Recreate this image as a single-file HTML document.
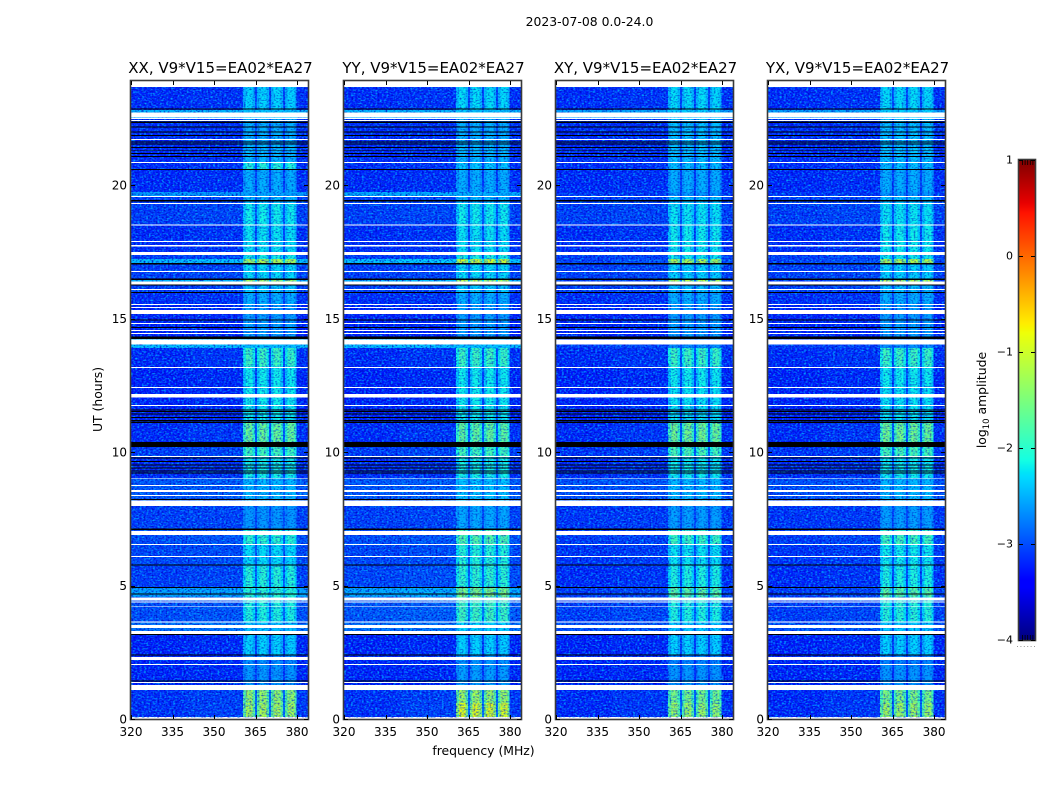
<!DOCTYPE html>
<html>
<head>
<meta charset="utf-8">
<title>2023-07-08 0.0-24.0</title>
<style>
html,body{margin:0;padding:0;background:#fff;width:1050px;height:800px;overflow:hidden}
svg{display:block}
text{font-family:"DejaVu Sans","Liberation Sans",sans-serif;fill:#000}
.tick{font-size:12px}
.ptitle{font-size:15px}
.label{font-size:12.4px}
</style>
</head>
<body>
<svg id="chart" xmlns="http://www.w3.org/2000/svg" width="1050" height="800" viewBox="0 0 1050 800">
  <defs>
    <filter id="grainLight" x="0" y="0" width="1" height="1" color-interpolation-filters="sRGB">
      <feTurbulence type="fractalNoise" baseFrequency="0.45 0.6" numOctaves="1" seed="3"/>
      <feColorMatrix type="matrix" values="0 0 0 0 0  0 0 0 0 0.7  0 0 0 0 1  2.6 0 0 0 -1.15"/>
    </filter>
    <filter id="grainDark" x="0" y="0" width="1" height="1" color-interpolation-filters="sRGB">
      <feTurbulence type="fractalNoise" baseFrequency="0.5 0.65" numOctaves="1" seed="11"/>
      <feColorMatrix type="matrix" values="0 0 0 0 0  0 0 0 0 0  0 0 0 0 0.75  2.6 0 0 0 -1.2"/>
    </filter>
  </defs>
  <text x="589.5" y="26" text-anchor="middle" font-size="12.4">2023-07-08 0.0-24.0</text>
  <text class="label" x="483.5" y="755" text-anchor="middle">frequency (MHz)</text>
  <text class="label" transform="translate(102,399.5) rotate(-90)" text-anchor="middle">UT (hours)</text>
  <text class="label" transform="translate(986,400) rotate(-90)" text-anchor="middle">log<tspan font-size="8.5" dy="3">10</tspan><tspan dy="-3"> amplitude</tspan></text>
</svg>
<script>
/* Axis ticks */
var freqTicks = [320, 335, 350, 365, 380];
var utTicks = [0, 5, 10, 15, 20];
var colorTicks = [1, 0, -1, -2, -3, -4];
var panelTitles = ['XX, V9*V15=EA02*EA27', 'YY, V9*V15=EA02*EA27', 'XY, V9*V15=EA02*EA27', 'YX, V9*V15=EA02*EA27'];

/* Frequency channels (MHz) and how strongly each follows the in-band level */
var freqEdges = [320, 340, 360.5, 361.5, 364, 364.8, 365.6, 366.5, 369, 369.8, 370.6, 371.5, 374, 374.9, 375.7, 376.5, 379, 379.9, 384];
var channelGain = [-0.02, 0.02, 0.76, 0.96, 0.74, 0.15, 0.74, 0.96, 0.74, 0.15, 0.74, 0.96, 0.74, 0.15, 0.72, 0.94, 0.72, 0.0];

/* Scan boundaries (UT hours) */
var scanEdges = [0.07, 0.6, 1.09, 2.06, 2.4, 3.18, 3.63, 4.57, 4.9, 5.73, 6.55, 7.08, 7.98, 9.03, 9.85, 10.37, 11.12, 12.43, 13.2, 13.9, 14.23, 15.54, 15.95, 16.37, 16.44, 17.07, 17.22, 17.37, 18.5, 19.28, 19.55, 19.74, 20.56, 20.86, 21.6, 22.5, 22.8, 23.67];

/* log10 amplitude, out of band, per scan */
var bgXX = [-3.15, -3.15, -3.25, -3.25, -3.25, -2.8, -3.0, -2.55, -3.1, -3.05, -3.0, -3.1, -2.95, -3.2, -3.1, -3.2, -3.25, -3.25, -3.2, -2.4, -3.25, -3.2, -3.1, -2.45, -3.1, -2.4, -3.1, -3.2, -3.1, -3.1, -2.6, -3.22, -3.2, -3.2, -3.2, -2.45, -3.2];
var bgYY = [-3.15, -3.15, -3.25, -3.25, -3.25, -2.8, -2.95, -2.5, -3.05, -3.05, -3.0, -3.1, -2.95, -3.2, -3.1, -3.2, -3.25, -3.25, -3.2, -2.4, -3.25, -3.2, -3.1, -2.45, -3.1, -2.35, -3.1, -3.2, -3.1, -3.1, -2.5, -3.22, -3.2, -3.2, -3.2, -2.45, -3.2];
var bgXY = [-3.2, -3.2, -3.25, -3.25, -3.25, -3.0, -3.1, -3.1, -3.2, -3.15, -3.1, -3.15, -3.0, -3.2, -3.15, -3.2, -3.25, -3.25, -3.2, -3.1, -3.25, -3.2, -3.1, -3.1, -3.1, -3.05, -3.1, -3.2, -3.1, -3.1, -3.15, -3.22, -3.2, -3.2, -3.2, -2.55, -3.2];
var bgYX = [-3.2, -3.2, -3.25, -3.25, -3.25, -3.0, -3.1, -3.1, -3.2, -3.15, -3.1, -3.15, -3.0, -3.2, -3.15, -3.2, -3.25, -3.25, -3.2, -3.1, -3.25, -3.2, -3.1, -3.1, -3.1, -3.05, -3.1, -3.2, -3.1, -3.1, -3.15, -3.22, -3.2, -3.2, -3.2, -2.55, -3.2];

/* log10 amplitude, in band (361-380 MHz), per scan */
var hfXX = [-1.1, -1.2, -2.6, -2.65, -2.25, -2.35, -2.0, -1.95, -1.95, -2.2, -1.9, -2.6, -2.4, -2.05, -1.75, -1.5, -2.1, -2.1, -1.8, -2.4, -2.55, -2.45, -2.3, -1.2, -2.2, -1.1, -2.05, -2.15, -2.1, -2.4, -2.55, -2.45, -1.95, -2.4, -2.45, -2.35, -2.25];
var hfYY = [-0.75, -1.15, -2.55, -2.6, -2.25, -2.25, -1.8, -1.4, -1.9, -1.95, -1.65, -2.5, -2.35, -2.05, -1.75, -1.55, -2.1, -2.1, -1.8, -2.4, -2.55, -2.45, -2.3, -1.05, -2.2, -0.9, -2.0, -2.15, -2.1, -2.4, -2.5, -2.45, -2.3, -2.4, -2.45, -2.35, -2.2];
var hfXY = [-1.2, -1.4, -2.6, -2.7, -2.25, -2.3, -2.0, -1.6, -2.0, -2.15, -1.8, -2.55, -2.4, -2.1, -1.7, -1.45, -2.15, -2.1, -1.8, -2.65, -2.55, -2.45, -2.35, -1.05, -2.25, -1.05, -2.1, -2.1, -2.15, -2.35, -2.6, -2.45, -2.35, -2.35, -2.35, -2.3, -2.2];
var hfYX = [-1.15, -1.35, -2.6, -2.7, -2.25, -2.3, -1.95, -1.6, -2.0, -2.1, -1.75, -2.55, -2.4, -2.1, -1.7, -1.45, -2.15, -2.1, -1.8, -2.65, -2.55, -2.45, -2.35, -1.0, -2.25, -1.0, -2.1, -2.1, -2.15, -2.35, -2.6, -2.45, -2.35, -2.35, -2.35, -2.3, -2.2];

/* Flagged time ranges [start, end] in UT hours: masked draws white, zero-amplitude draws black */
var maskedSpans = [[1.09,1.27],[1.35,1.39],[2.02,2.06],[2.21,2.33],[3.18,3.3],[3.41,3.52],[3.61,3.65],[4.21,4.24],[4.36,4.4],[4.44,4.55],[6.07,6.1],[6.52,6.55],[6.89,7.05],[7.98,8.18],[8.35,8.39],[8.5,8.58],[8.73,8.76],[9.0,9.03],[9.82,9.85],[11.72,11.76],[12.05,12.18],[12.4,12.43],[13.14,13.18],[14.03,14.22],[14.42,14.45],[14.53,14.57],[14.79,14.83],[15.17,15.32],[15.39,15.43],[15.5,15.54],[16.07,16.1],[16.25,16.38],[16.74,16.78],[17.04,17.07],[17.37,17.5],[17.69,17.76],[17.87,17.91],[18.49,18.52],[19.29,19.32],[19.55,19.59],[20.82,20.86],[21.68,21.72],[22.4,22.43],[22.47,22.51],[22.53,22.71]];
var zeroSpans = [[1.4,1.44],[2.37,2.41],[3.15,3.18],[4.66,4.7],[4.91,4.94],[5.74,5.78],[7.08,7.13],[8.2,8.24],[9.19,9.23],[9.27,9.31],[9.38,9.42],[9.49,9.53],[9.62,9.66],[9.76,9.8],[10.19,10.37],[11.08,11.13],[11.15,11.19],[11.28,11.32],[11.4,11.44],[11.49,11.53],[11.55,11.59],[14.23,14.32],[14.65,14.69],[14.92,14.96],[15.95,15.99],[16.23,16.27],[16.45,16.49],[17.03,17.07],[19.39,19.43],[20.57,20.6],[21.05,21.09],[21.16,21.2],[21.27,21.3],[21.39,21.43],[21.52,21.55],[21.59,21.63],[21.84,21.88],[21.97,22.0],[22.16,22.2],[22.33,22.37],[22.82,22.87]];

/* Colour range */
var colorMin = -4;
var colorMax = 1;

var bgByPanel = [bgXX, bgYY, bgXY, bgYX];
var hfByPanel = [hfXX, hfYY, hfXY, hfYX];

var svg = document.getElementById('chart');
var NS = 'http://www.w3.org/2000/svg';
var panelLeft = [131, 344, 556, 768];
var panelWidth = 177;
var plotBottom = 719;
var plotTop = 81;
var hourPx = 26.7;
var mhzPx = 2.767;

function xScale(p, f) { return panelLeft[p] + (f - 320) * mhzPx; }
function yScale(h) { return plotBottom - h * hourPx; }

function make(tag, attrs, parent) {
  var el = document.createElementNS(NS, tag);
  for (var k in attrs) el.setAttribute(k, attrs[k]);
  parent.appendChild(el);
  return el;
}
function clamp01(v) { return v < 0 ? 0 : v > 1 ? 1 : v; }
function interp(t, xs, ys) {
  for (var i = 1; i < xs.length; i++) {
    if (t <= xs[i]) return ys[i - 1] + (ys[i] - ys[i - 1]) * (t - xs[i - 1]) / (xs[i] - xs[i - 1]);
  }
  return ys[ys.length - 1];
}
function jet(v) {
  var t = clamp01((v - colorMin) / (colorMax - colorMin));
  var r = interp(t, [0, 0.35, 0.66, 0.89, 1], [0, 0, 1, 1, 0.5]);
  var g = interp(t, [0, 0.125, 0.375, 0.64, 0.91, 1], [0, 0, 1, 1, 0, 0]);
  var b = interp(t, [0, 0.11, 0.34, 0.65, 1], [0.5, 1, 1, 0, 0]);
  return 'rgb(' + Math.round(r * 255) + ',' + Math.round(g * 255) + ',' + Math.round(b * 255) + ')';
}

panelTitles.forEach(function (title, p) {
  var left = panelLeft[p];
  var g = make('g', {}, svg);
  
  

  var heat = make('g', { 'shape-rendering': 'crispEdges' }, g);
  
  

  for (var s = 0; s < scanEdges.length - 1; s++) {
    var yTop = yScale(scanEdges[s + 1]);
    var yBot = yScale(scanEdges[s]);
    for (var c = 0; c < freqEdges.length - 1; c++) {
      var bg = bgByPanel[p][s];
      var hf = hfByPanel[p][s];
      var value = bg + channelGain[c] * (hf - bg);
      var x0 = xScale(p, freqEdges[c]);
      var x1 = xScale(p, freqEdges[c + 1]);
      var cell = make('rect', { x: x0, y: yTop, width: x1 - x0, height: yBot - yTop, fill: jet(value) }, heat);
      
      
    }
  }

  var gy0 = yScale(scanEdges[scanEdges.length - 1]);
  var gh = yScale(scanEdges[0]) - gy0;
  var bandStart = xScale(p, freqEdges[2]);
  var bandEnd = xScale(p, freqEdges[17]);
  /* Grain is full strength out of band, softer inside the bright bands. */
  var grainZones = [
    { x: left, w: bandStart - left, o: 1 },
    { x: bandStart, w: bandEnd - bandStart, o: 0.7 },
    { x: bandEnd, w: left + panelWidth - bandEnd, o: 1 }
  ];
  grainZones.forEach(function (zone) {
    var light = make('rect', { x: zone.x, y: gy0, width: zone.w, height: gh, filter: 'url(#grainLight)', opacity: zone.o }, g);
    
    
    var dark = make('rect', { x: zone.x, y: gy0, width: zone.w, height: gh, filter: 'url(#grainDark)', opacity: zone.o }, g);
    
    
  });

  maskedSpans.forEach(function (sp) {
    var m = make('rect', { x: left, y: yScale(sp[1]), width: panelWidth, height: yScale(sp[0]) - yScale(sp[1]), fill: '#fff', 'shape-rendering': 'crispEdges' }, g);
    
    
  });
  zeroSpans.forEach(function (sp) {
    var z = make('rect', { x: left, y: yScale(sp[1]), width: panelWidth, height: yScale(sp[0]) - yScale(sp[1]), fill: '#000', 'shape-rendering': 'crispEdges' }, g);
    
    
  });

  var edgeTop = make('rect', { x: left, y: plotTop, width: panelWidth, height: gy0 - plotTop, fill: '#fff' }, g);
  
  

  var frame = make('rect', { x: left - 0.5, y: plotTop - 0.5, width: panelWidth + 1, height: plotBottom - plotTop + 1, fill: 'none', stroke: '#3a3a3a', 'stroke-width': 1.6 }, g);
  
  

  freqTicks.forEach(function (f) {
    var x = Math.round(xScale(p, f)) + 0.5;
    var tb = make('line', { x1: x, x2: x, y1: plotBottom, y2: plotBottom - 4, stroke: '#000' }, g);
    
    
    var tt = make('line', { x1: x, x2: x, y1: plotTop, y2: plotTop + 4, stroke: '#000' }, g);
    
    
    var tl = make('text', { x: xScale(p, f), y: 736, 'text-anchor': 'middle', 'class': 'tick' }, g);
    
    
    tl.textContent = String(f);
  });

  utTicks.forEach(function (h) {
    var y = Math.round(yScale(h)) + 0.5;
    var tl = make('line', { x1: left, x2: left + 4, y1: y, y2: y, stroke: '#000' }, g);
    
    
    var tr = make('line', { x1: left + panelWidth, x2: left + panelWidth - 4, y1: y, y2: y, stroke: '#000' }, g);
    
    
    var lb = make('text', { x: left - 4, y: yScale(h) + 4.5, 'text-anchor': 'end', 'class': 'tick' }, g);
    
    
    lb.textContent = String(h);
  });

  var t = make('text', { x: left + panelWidth / 2 + 1, y: 73, 'text-anchor': 'middle', 'class': 'ptitle' }, g);
  
  
  t.textContent = title;
});

/* Colour bar */
var cbLeft = 1019, cbWidth = 16, cbTop = 160, cbUnit = 96;
function cbY(v) { return cbTop + (colorMax - v) * cbUnit; }

var cb = make('g', {}, svg);



var cbRamp = make('g', { 'shape-rendering': 'crispEdges' }, cb);


var cbSteps = (colorMax - colorMin) * cbUnit;
for (var i = 0; i < cbSteps; i++) {
  var v = colorMax - (i + 0.5) / cbUnit;
  var slice = make('rect', { x: cbLeft, y: cbTop + i, width: cbWidth, height: 1, fill: jet(v) }, cbRamp);
  
  
}
var cbFrame = make('rect', { x: cbLeft - 0.5, y: cbTop - 0.5, width: cbWidth + 1, height: cbSteps + 1, fill: 'none', stroke: '#3a3a3a', 'stroke-width': 1.6 }, cb);



colorTicks.forEach(function (v) {
  var y = Math.round(cbY(v)) + 0.5;
  var a = make('line', { x1: cbLeft, x2: cbLeft + 4, y1: y, y2: y, stroke: '#000' }, cb);
  
  
  var b = make('line', { x1: cbLeft + cbWidth, x2: cbLeft + cbWidth - 4, y1: y, y2: y, stroke: '#000' }, cb);
  
  
  var lb = make('text', { x: 1013, y: cbY(v) + 3.5, 'text-anchor': 'end', 'font-size': 11 }, cb);
  
  
  lb.textContent = String(v).replace('-', '\u2212');
});

for (var k = 0; k < 5; k++) {
  var x = cbLeft + 3.5 + k * 2.6;
  var up = make('line', { x1: x, x2: x, y1: cbTop, y2: cbTop + 5, stroke: '#000', 'stroke-width': 0.8 }, cb);
  
  
  var dn = make('line', { x1: x, x2: x, y1: cbTop + cbSteps, y2: cbTop + cbSteps - 5, stroke: '#000', 'stroke-width': 0.8 }, cb);
  
  
}
var dots = make('line', { x1: 1017, x2: 1035, y1: 646.5, y2: 646.5, stroke: '#999', 'stroke-width': 1, 'stroke-dasharray': '1 2.4' }, cb);


</script>
</body>
</html>
